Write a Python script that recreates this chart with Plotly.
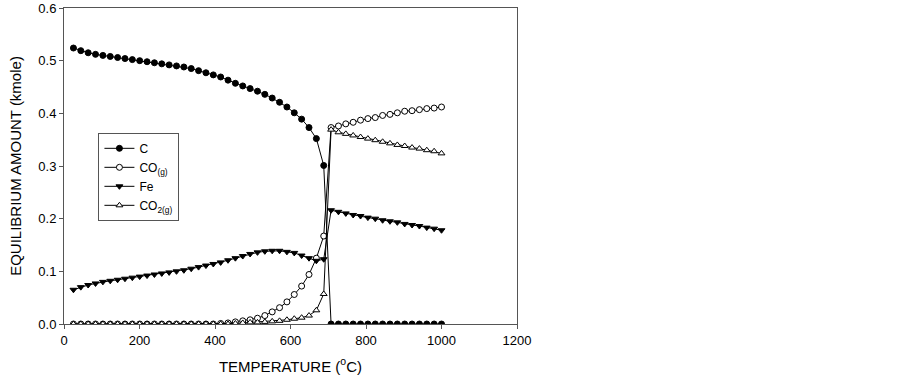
import plotly.graph_objects as go

temperature = [25, 44.5, 64, 83.5, 103, 122.5, 142, 161.5, 181, 200.5,
               220, 239.5, 259, 278.5, 298, 317.5, 337, 356.5, 376, 395.5,
               415, 434.5, 454, 473.5, 493, 512.5, 532, 551.5, 571, 590.5,
               610, 629.5, 649, 668.5, 688, 707.5, 727, 746.5, 766, 785.5,
               805, 824.5, 844, 863.5, 883, 902.5, 922, 941.5, 961, 980.5, 1000]

c_amount = [0.524, 0.519, 0.515, 0.512, 0.510, 0.508, 0.506, 0.504, 0.502, 0.500,
            0.498, 0.496, 0.494, 0.492, 0.490, 0.488, 0.485, 0.481, 0.477, 0.473,
            0.469, 0.463, 0.457, 0.452, 0.447, 0.442, 0.436, 0.429, 0.421, 0.412,
            0.401, 0.389, 0.373, 0.352, 0.301, 0.0, 0.0, 0.0, 0.0, 0.0,
            0.0, 0.0, 0.0, 0.0, 0.0, 0.0, 0.0, 0.0, 0.0, 0.0, 0.0]

co_amount = [0.0, 0.0, 0.0, 0.0, 0.0, 0.0, 0.0, 0.0, 0.0, 0.0,
             0.0, 0.0, 0.0, 0.0, 0.0, 0.0, 0.0, 0.0, 0.0, 0.0,
             0.001, 0.002, 0.004, 0.006, 0.008, 0.011, 0.016, 0.023, 0.031, 0.042,
             0.056, 0.072, 0.094, 0.125, 0.167, 0.373, 0.376, 0.380, 0.383, 0.387,
             0.390, 0.392, 0.396, 0.398, 0.401, 0.404, 0.405, 0.407, 0.409, 0.410, 0.412]

fe_amount = [0.065, 0.070, 0.074, 0.077, 0.080, 0.082, 0.084, 0.086, 0.088, 0.090,
             0.092, 0.094, 0.096, 0.098, 0.100, 0.102, 0.105, 0.108, 0.111, 0.114,
             0.117, 0.121, 0.125, 0.129, 0.133, 0.136, 0.138, 0.139, 0.139, 0.137,
             0.135, 0.130, 0.125, 0.120, 0.123, 0.216, 0.213, 0.210, 0.207, 0.205,
             0.202, 0.200, 0.197, 0.195, 0.193, 0.190, 0.188, 0.186, 0.183, 0.181, 0.178]

co2_amount = [0.0, 0.0, 0.0, 0.0, 0.0, 0.0, 0.0, 0.0, 0.0, 0.0,
              0.0, 0.0, 0.0, 0.0, 0.0, 0.0, 0.0, 0.0, 0.0, 0.0,
              0.0, 0.0, 0.001, 0.002, 0.003, 0.003, 0.004, 0.005, 0.006, 0.008,
              0.010, 0.012, 0.016, 0.026, 0.057, 0.369, 0.364, 0.361, 0.358, 0.355,
              0.352, 0.349, 0.346, 0.343, 0.340, 0.338, 0.335, 0.333, 0.330, 0.328, 0.324]

series_names = ["C", "CO<sub>(g)</sub>", "Fe", "CO<sub>2(g)</sub>"]
x_ticks = [0, 200, 400, 600, 800, 1000, 1200]
y_ticks = [0.0, 0.1, 0.2, 0.3, 0.4, 0.5, 0.6]

FONT = "Liberation Sans, Arial, sans-serif"

styles = [
    dict(symbol="circle", color="black", line=dict(color="black", width=1), size=6),
    dict(symbol="circle", color="white", line=dict(color="black", width=1), size=6),
    dict(symbol="triangle-down", color="black", line=dict(color="black", width=1), size=6),
    dict(symbol="triangle-up", color="white", line=dict(color="black", width=1), size=6),
]

fig = go.Figure()
for name, vals, st in zip(series_names, [c_amount, co_amount, fe_amount, co2_amount], styles):
    fig.add_trace(go.Scatter(
        x=temperature, y=vals, name=name, mode="lines+markers",
        line=dict(color="black", width=1), marker=st,
    ))

fig.update_layout(
    width=903, height=382,
    margin=dict(l=64, r=386, t=8, b=58),
    paper_bgcolor="white", plot_bgcolor="white",
    font=dict(family=FONT, size=13, color="black"),
    showlegend=True,
    legend=dict(
        x=0.076, y=0.605, xanchor="left", yanchor="top",
        bordercolor="#555555", borderwidth=1, bgcolor="white",
        font=dict(family=FONT, size=12, color="black"),
        tracegroupgap=0, itemwidth=30,
    ),
)
fig.update_xaxes(
    range=[0, 1200], tickvals=x_ticks, ticktext=[str(v) for v in x_ticks],
    showgrid=False, zeroline=False, showline=True, linecolor="#555555", linewidth=1,
    mirror=True, ticks="outside", ticklen=4, tickcolor="#555555", automargin=False,
    tickfont=dict(family=FONT, size=13),
    title=dict(text="TEMPERATURE (<sup>o</sup>C)", font=dict(family=FONT, size=15), standoff=14),
)
fig.update_yaxes(
    range=[0, 0.6], tickvals=y_ticks, ticktext=["%.1f" % v for v in y_ticks],
    showgrid=False, zeroline=False, showline=True, linecolor="#555555", linewidth=1,
    mirror=True, ticks="outside", ticklen=4, tickcolor="#555555", automargin=False,
    tickfont=dict(family=FONT, size=13),
    title=dict(text="EQUILIBRIUM AMOUNT (kmole)", font=dict(family=FONT, size=15), standoff=13),
)

fig.write_html("out.html", config={"displayModeBar": False},
               post_script="document.body.style.margin='0';")
